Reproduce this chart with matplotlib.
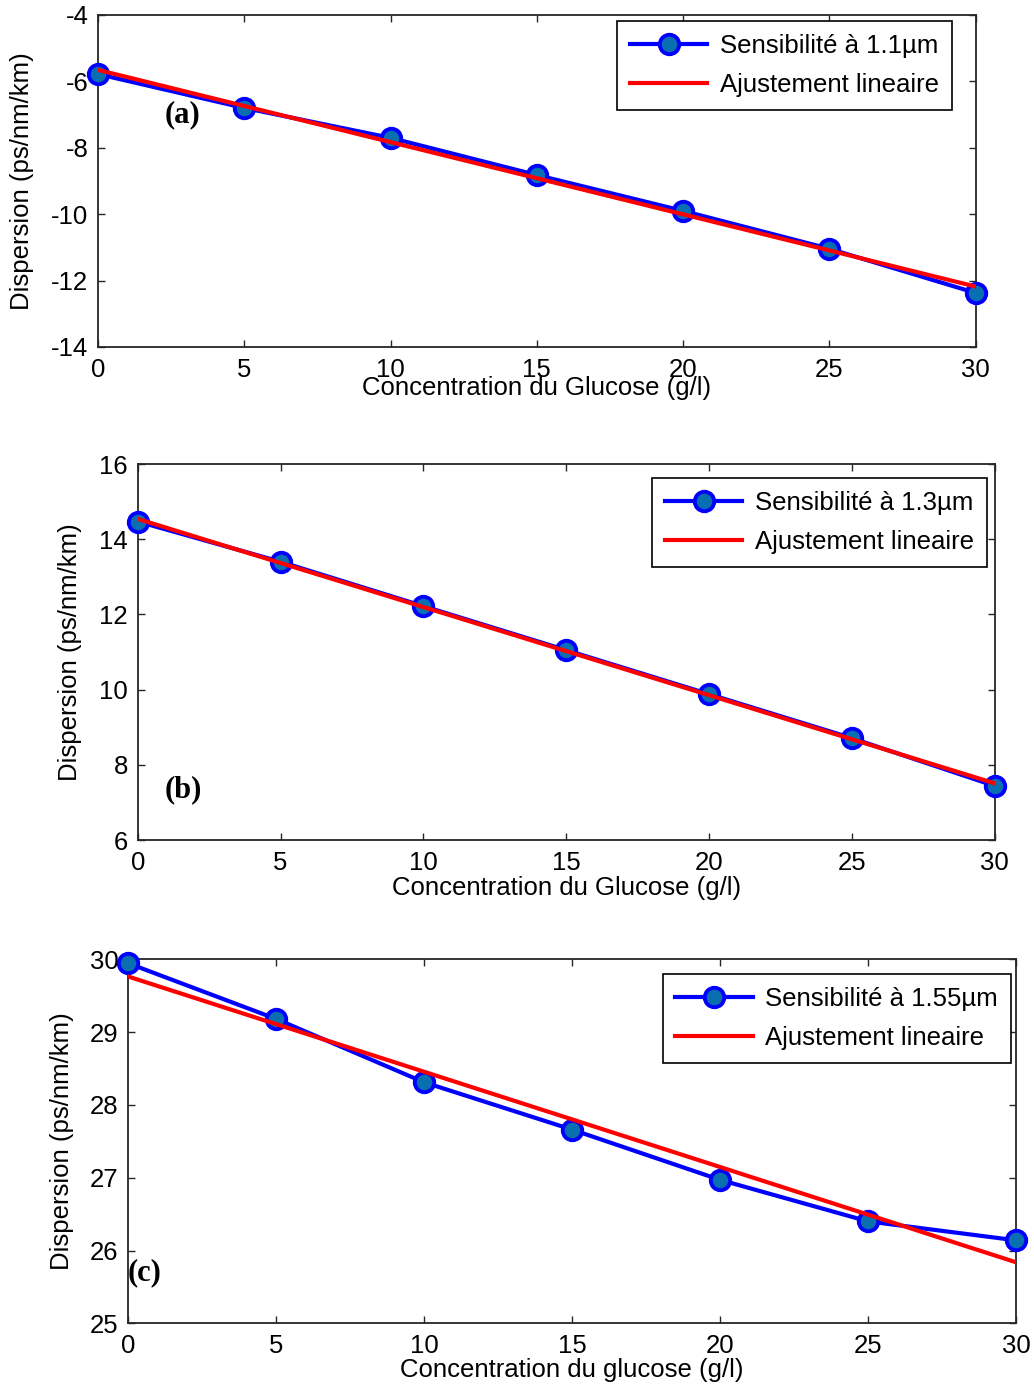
import numpy as np
import matplotlib
matplotlib.use("Agg")
import matplotlib.pyplot as plt

plt.rcParams['font.family'] = ['Liberation Sans', 'DejaVu Sans']
plt.rcParams['axes.unicode_minus'] = False

# Glucose concentration (g/l)
concentration = [0, 5, 10, 15, 20, 25, 30]

# Dispersion (ps/nm/km) at each wavelength
disp_1100 = [-5.78, -6.80, -7.70, -8.82, -9.90, -11.04, -12.37]
disp_1300 = [14.47, 13.40, 12.22, 11.05, 9.88, 8.71, 7.44]
disp_1550 = [29.945, 29.18, 28.31, 27.66, 26.97, 26.40, 26.14]

series_labels = ['Sensibilité à 1.1µm', 'Sensibilité à 1.3µm', 'Sensibilité à 1.55µm']
fit_label = 'Ajustement lineaire'
panel_tags = ['(a)', '(b)', '(c)']
x_labels = ['Concentration du Glucose (g/l)', 'Concentration du Glucose (g/l)',
            'Concentration du glucose (g/l)']
y_label = 'Dispersion (ps/nm/km)'

y_limits = [(-14, -4), (6, 16), (25, 30)]
y_ticks = [np.arange(-14, -3, 2), np.arange(6, 17, 2), np.arange(25, 31, 1)]
x_ticks = [0, 5, 10, 15, 20, 25, 30]

W, H = 1034, 1386
FS = 18.5
fig = plt.figure(figsize=(W / 100, H / 100), dpi=100)


def frac(left, top, right, bottom):
    return [left / W, 1 - bottom / H, (right - left) / W, (bottom - top) / H]


axes_px = [(98, 15, 975.5, 347), (137.7, 464, 994.5, 840), (128.3, 959.3, 1016, 1323.3)]
legend_px = [(952, 21), (987, 478), (1011, 974)]          # upper-right corner of legend
tag_px = [(183, 115), (183, 790), (145, 1273)]
xlabel_dy = [41, 48, 47]                                   # label centre below the axis, px
ylabel_x = [22, 70, 62]                                    # label centre, px from left

datasets = [disp_1100, disp_1300, disp_1550]
x = np.array(concentration, dtype=float)

for i in range(3):
    ax = fig.add_axes(frac(*axes_px[i]))
    y = np.array(datasets[i])
    coef = np.polyfit(x, y, 1)
    xf = np.linspace(x[0], x[-1], 200)

    ax.plot(x, y, '-o', color='#0000ff', lw=3, ms=14, mfc='#0a6fb0',
            mec='#0000ff', mew=2.8, label=series_labels[i], zorder=3, clip_on=False)
    ax.plot(xf, np.polyval(coef, xf), '-', color='#ff0000', lw=3,
            label=fit_label, zorder=4)

    ax.set_xlim(0, 30)
    ax.set_ylim(*y_limits[i])
    ax.set_xticks(x_ticks)
    ax.set_yticks(y_ticks[i])
    ax.tick_params(direction='in', top=True, right=True, length=5, width=1,
                   color='#262626', labelsize=FS, labelcolor='black')
    ax.tick_params(axis='x', pad=8)
    ax.tick_params(axis='y', pad=7)
    for s in ax.spines.values():
        s.set_color('#262626')
        s.set_linewidth(1.3)

    l, t, r, b = axes_px[i]
    ax.set_xlabel(x_labels[i], fontsize=FS, va='center')
    ax.xaxis.set_label_coords(0.5, -xlabel_dy[i] / (b - t))
    ax.set_ylabel(y_label, fontsize=FS, va='center')
    ax.yaxis.set_label_coords(-(l - ylabel_x[i]) / (r - l), 0.5)

    lx, ly = legend_px[i]
    leg = ax.legend(loc='upper right', bbox_to_anchor=(lx / W, 1 - ly / H),
                    bbox_transform=fig.transFigure, fontsize=FS, frameon=True,
                    fancybox=False, edgecolor='black', framealpha=1,
                    borderaxespad=0, handlelength=3.0, labelspacing=0.6,
                    borderpad=0.5, handletextpad=0.5)
    leg.get_frame().set_linewidth(1.2)

    tx, ty = tag_px[i]
    fig.text(tx / W, 1 - ty / H, panel_tags[i], fontsize=22, fontweight='bold',
             family='Liberation Serif', ha='center', va='center')

fig.savefig('out.png', dpi=100)
